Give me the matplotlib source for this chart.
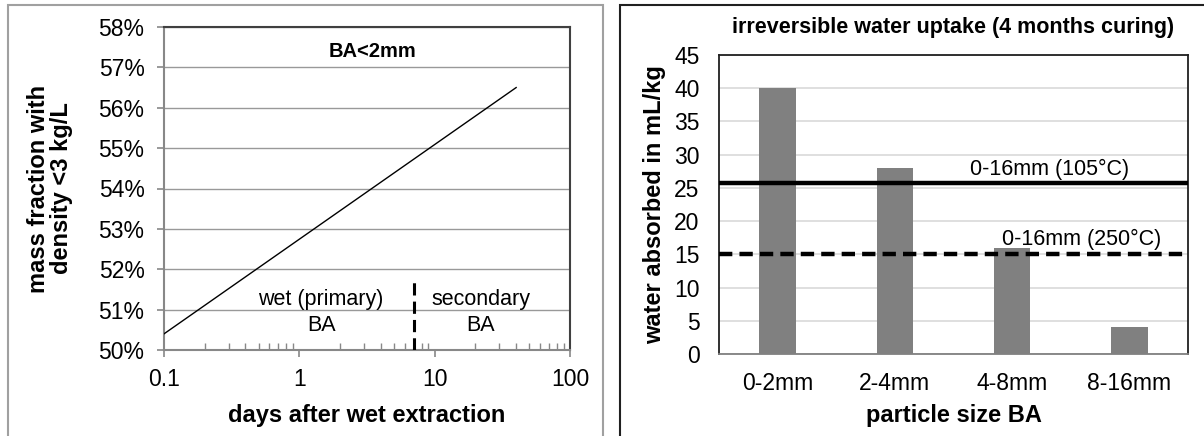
import matplotlib
matplotlib.use("Agg")
import matplotlib.pyplot as plt
from matplotlib.patches import Rectangle
from matplotlib.ticker import FixedLocator, FuncFormatter, LogLocator, NullFormatter

plt.rcParams['font.family'] = ['Liberation Sans', 'DejaVu Sans']

# ---- left panel data ----
days = [0.1, 40]
mass_fraction = [50.4, 56.5]          # percent
boundary_day = 7
boundary_top = 51.8
left_yticks = [50, 51, 52, 53, 54, 55, 56, 57, 58]
left_xticks = [0.1, 1, 10, 100]
left_xticklabels = ["0.1", "1", "10", "100"]

# ---- right panel data ----
categories = ["0-2mm", "2-4mm", "4-8mm", "8-16mm"]
water_absorbed = [40, 28, 16, 4]
ref_105 = 25.7
ref_250 = 15
right_yticks = [0, 5, 10, 15, 20, 25, 30, 35, 40, 45]

W, H = 1204, 436
fig = plt.figure(figsize=(W / 100, H / 100), dpi=100)

def fx(px):
    return px / W

def fy(py):
    return 1 - py / H

TICK = 16.5
LABEL = 17
ANNOT = 15.5

# panel borders
fig.patches.append(Rectangle((fx(8), fy(445)), fx(603 - 8), (445 - 5) / H,
                             transform=fig.transFigure, fill=False,
                             edgecolor="#a0a0a0", linewidth=1.5, zorder=0))
fig.patches.append(Rectangle((fx(620), fy(445)), fx(1230 - 620), (445 - 5) / H,
                             transform=fig.transFigure, fill=False,
                             edgecolor="#202020", linewidth=1.5, zorder=0))

# ================= left chart =================
ax1 = fig.add_axes([fx(164), fy(350), fx(570 - 164), (350 - 27) / H])
ax1.set_xscale("log")
ax1.set_xlim(0.1, 100)
ax1.set_ylim(50, 58)
ax1.plot(days, mass_fraction, color="black", linewidth=1.0, zorder=3)
ax1.plot([boundary_day, boundary_day], [50, boundary_top], color="black",
         linewidth=2.2, dashes=(4, 2), zorder=3)

ax1.yaxis.set_major_locator(FixedLocator(left_yticks))
ax1.yaxis.set_major_formatter(FuncFormatter(lambda v, p: f"{v:.0f}%"))
ax1.xaxis.set_major_locator(FixedLocator(left_xticks))
ax1.set_xticklabels(left_xticklabels)
ax1.xaxis.set_minor_locator(LogLocator(base=10, subs=range(2, 10)))
ax1.xaxis.set_minor_formatter(NullFormatter())
ax1.grid(axis="y", color="#999999", linewidth=1.0)
ax1.set_axisbelow(True)
ax1.tick_params(axis="both", which="major", labelsize=TICK, color="#888888",
                length=5, width=1.2, direction="out")
ax1.tick_params(axis="y", which="major", pad=9)
ax1.tick_params(axis="x", which="major", pad=8)
ax1.tick_params(axis="x", which="minor", direction="in", length=5,
                color="#888888", width=1.0)
ax1.tick_params(axis="y", which="minor", left=False)
for side in ["left", "bottom"]:
    ax1.spines[side].set_color("#888888")
    ax1.spines[side].set_linewidth(1.5)
for side in ["top", "right"]:
    ax1.spines[side].set_color("#404040")
    ax1.spines[side].set_linewidth(1.5)

ax1.text(3.5, 57.4, "BA<2mm", fontsize=14.5, fontweight="bold",
         ha="center", va="center")
ax1.text(1.45, 50.92, "wet (primary)\nBA", fontsize=ANNOT, ha="center",
         va="center", linespacing=1.3)
ax1.text(21.9, 50.92, "secondary\nBA", fontsize=ANNOT, ha="center",
         va="center", linespacing=1.3)
ax1.set_ylabel("mass fraction with\ndensity <3 kg/L", fontsize=LABEL,
               fontweight="bold", linespacing=1.0, va="center")
ax1.yaxis.set_label_coords((50 - 164) / 406, 0.5)
ax1.set_xlabel("days after wet extraction", fontsize=LABEL,
               fontweight="bold", va="center")
ax1.xaxis.set_label_coords(0.5, (350 - 415) / 323)

# ================= right chart =================
ax2 = fig.add_axes([fx(719), fy(354), fx(1188 - 719), (354 - 55) / H])
x = list(range(len(categories)))
ax2.bar(x, water_absorbed, width=0.31, color="#808080", zorder=2)
ax2.set_xlim(-0.5, len(categories) - 0.5)
ax2.set_ylim(0, 45)
ax2.axhline(ref_105, color="black", linewidth=3.2, zorder=3)
ax2.axhline(ref_250, color="black", linewidth=3.2, dashes=(3, 1.6), zorder=3)
ax2.yaxis.set_major_locator(FixedLocator(right_yticks))
ax2.set_xticks(x)
ax2.set_xticklabels(categories)
ax2.grid(axis="y", color="#d9d9d9", linewidth=1.2)
ax2.set_axisbelow(True)
ax2.tick_params(axis="both", labelsize=TICK, length=0)
ax2.tick_params(axis="x", pad=13)
ax2.tick_params(axis="y", pad=14)
for side in ["left", "bottom", "top", "right"]:
    ax2.spines[side].set_color("#202020")
    ax2.spines[side].set_linewidth(1.3)
ax2.spines["bottom"].set_color("#808080")

ax2.text(2.32, 27.75, "0-16mm (105°C)", fontsize=ANNOT, ha="center", va="center")
ax2.text(2.59, 17.25, "0-16mm (250°C)", fontsize=ANNOT, ha="center", va="center")
ax2.text(0.5, (354 - 27) / 299, "irreversible water uptake (4 months curing)",
         transform=ax2.transAxes, fontsize=15.5, fontweight="bold",
         ha="center", va="center")
ax2.set_ylabel("water absorbed in mL/kg", fontsize=LABEL, fontweight="bold",
               va="center")
ax2.yaxis.set_label_coords((655 - 719) / 469, 0.5)
ax2.set_xlabel("particle size BA", fontsize=LABEL, fontweight="bold",
               va="center")
ax2.xaxis.set_label_coords(0.5, (354 - 415) / 299)

fig.savefig("out.png", dpi=100)
